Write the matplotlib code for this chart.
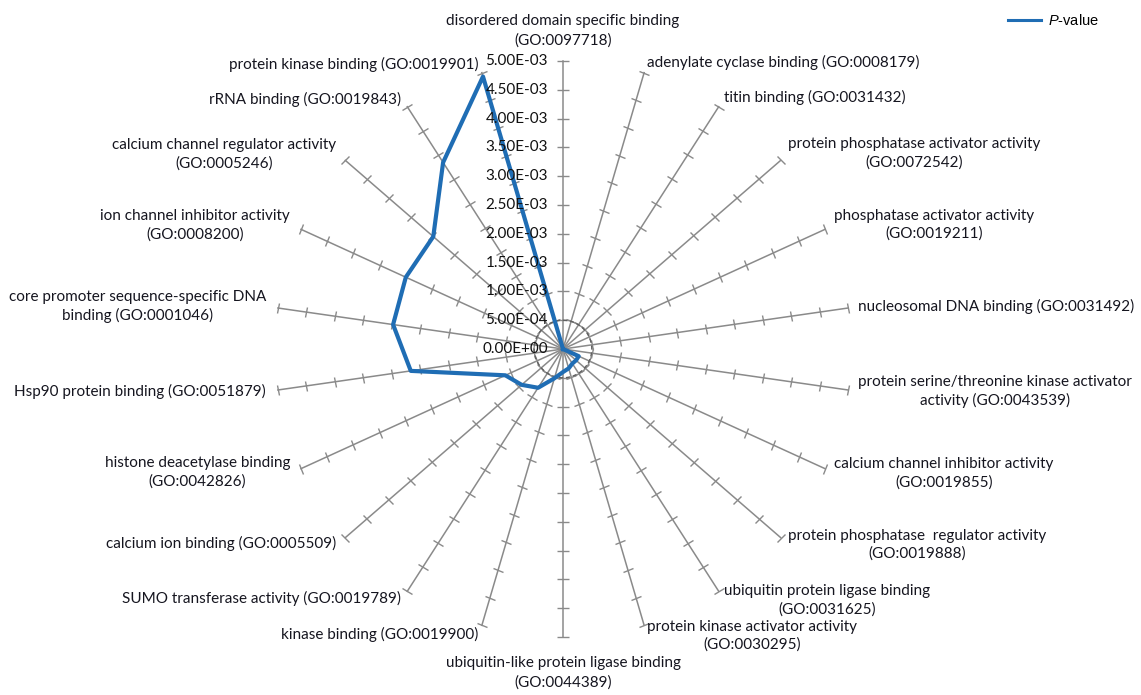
import numpy as np
import matplotlib
matplotlib.use("Agg")
import matplotlib.pyplot as plt
from matplotlib.markers import MarkerStyle
from matplotlib.transforms import Affine2D
from matplotlib.lines import Line2D

plt.rcParams['font.family'] = ['Lato', 'DejaVu Sans']
plt.rcParams['mathtext.fontset'] = 'custom'
plt.rcParams['mathtext.it'] = 'Liberation Sans:italic'
plt.rcParams['mathtext.rm'] = 'Liberation Sans'

# GO terms, clockwise from the top
terms = [
    "disordered domain specific binding\n(GO:0097718)",
    "adenylate cyclase binding (GO:0008179)",
    "titin binding (GO:0031432)",
    "protein phosphatase activator activity\n(GO:0072542)",
    "phosphatase activator activity\n(GO:0019211)",
    "nucleosomal DNA binding (GO:0031492)",
    "protein serine/threonine kinase activator\nactivity (GO:0043539)",
    "calcium channel inhibitor activity\n(GO:0019855)",
    "protein phosphatase  regulator activity\n(GO:0019888)",
    "ubiquitin protein ligase binding\n(GO:0031625)",
    "protein kinase activator activity\n(GO:0030295)",
    "ubiquitin-like protein ligase binding\n(GO:0044389)",
    "kinase binding (GO:0019900)",
    "SUMO transferase activity (GO:0019789)",
    "calcium ion binding (GO:0005509)",
    "histone deacetylase binding\n(GO:0042826)",
    "Hsp90 protein binding (GO:0051879)",
    "core promoter sequence-specific DNA\nbinding (GO:0001046)",
    "ion channel inhibitor activity\n(GO:0008200)",
    "calcium channel regulator activity\n(GO:0005246)",
    "rRNA binding (GO:0019843)",
    "protein kinase binding (GO:0019901)",
]

pvalues = [0.0, 0.0, 0.0, 0.0, 0.0, 0.0, 0.0,
           3.0e-4, 3.0e-4, 3.0e-4, 3.5e-4, 4.0e-4, 5.3e-4, 8.0e-4,
           9.5e-4, 1.1e-3, 2.67e-3, 2.98e-3, 3.0e-3, 2.98e-3, 3.85e-3, 4.93e-3]

ring_values = [0.0, 5e-4, 1e-3, 1.5e-3, 2e-3, 2.5e-3, 3e-3, 3.5e-3, 4e-3, 4.5e-3, 5e-3]
rmax = 5e-3

n = len(terms)
theta = np.arange(n) * 2 * np.pi / n

fig = plt.figure(figsize=(11.41, 6.95), dpi=100)
cx, cy, rad = 563 / 1141, 1 - 349 / 695, 288
w, h = 2 * rad / 1141, 2 * rad / 695
ax = fig.add_axes([cx - w / 2, cy - h / 2, w, h], projection='polar')
ax.set_theta_zero_location('N')
ax.set_theta_direction(-1)
ax.set_ylim(0, rmax)
ax.set_axis_off()

axis_col = '#8a8a8a'
text_col = '#15151f'
fs = 11

# spokes with cross ticks every 5E-04
for t in theta:
    ax.plot([t, t], [0, rmax], color=axis_col, lw=1.1, clip_on=False, zorder=1)
    tick = MarkerStyle('_', transform=Affine2D().rotate_deg(-np.degrees(t)))
    ax.plot([t] * 10, ring_values[1:], ls='none', marker=tick, ms=8,
            mew=1.0, color=axis_col, clip_on=False, zorder=1)

# dashed ring at the first gridline
circ = np.linspace(0, 2 * np.pi, 300)
ax.plot(circ, [ring_values[1]] * len(circ), color='#606060', lw=1.0,
        dashes=(3, 2), zorder=1)

# P-value series
ax.plot(np.append(theta, theta[0]), pvalues + pvalues[:1], color='#1f6db4',
        lw=3.0, solid_joinstyle='round', clip_on=False, zorder=3)

# value labels along the top spoke
for v in ring_values:
    ax.annotate(f"{v:.2E}", xy=(0, v), xytext=(-15, 0), textcoords='offset pixels',
                ha='right', va='center', fontsize=fs, color='#111111',
                annotation_clip=False, zorder=4)

# category labels around the outside
for t, lab in zip(theta, terms):
    deg = np.degrees(t)
    s, c = np.sin(t), np.cos(t)
    ls = 1.35
    if abs(deg) < 1:
        ha, va, off, ls = 'center', 'bottom', (0, 13), 1.5
    elif abs(deg - 180) < 1:
        ha, va, off, ls = 'center', 'top', (0, -19), 1.5
    elif deg < 180:
        ha, va, off = 'left', 'center', (10 * s, 11 * c)
    else:
        ha, va, off = 'right', 'center', (12 * s, 9 * c)
    ax.annotate(lab, xy=(t, rmax), xytext=off, textcoords='offset pixels',
                ha=ha, va=va, multialignment='center', fontsize=fs,
                linespacing=ls, color=text_col, annotation_clip=False)

handle = Line2D([], [], color='#1f6db4', lw=2.2)
fig.legend([handle], [r'$P$-value'], loc='upper right', bbox_to_anchor=(0.975, 1.0),
           frameon=False, handlelength=2.3, handletextpad=0.5,
           prop={'family': 'Liberation Sans', 'size': 10.5})

fig.savefig('out.png', dpi=100)
